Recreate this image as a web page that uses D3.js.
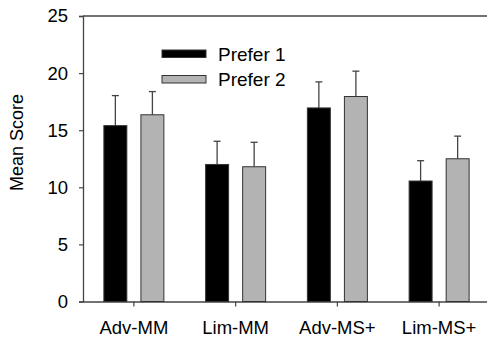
<!DOCTYPE html>
<html>
<head>
<meta charset="utf-8">
<script src="https://cdn.jsdelivr.net/npm/d3@7"></script>
<style>
  body { margin: 0; background: #fff; }
  svg { display: block; font-family: "Liberation Sans", Arial, sans-serif; }
</style>
</head>
<body>
<svg id="chart" width="487" height="342"></svg>
<script>
const categories = ["Adv-MM", "Lim-MM", "Adv-MS+", "Lim-MS+"];
const seriesNames = ["Prefer 1", "Prefer 2"];
const prefer1 = [15.4, 12.0, 16.95, 10.55];
const prefer2 = [16.35, 11.8, 17.95, 12.5];
const prefer1Err = [2.63, 2.03, 2.28, 1.78];
const prefer2Err = [2.03, 2.14, 2.22, 1.98];
const yTicks = [0, 5, 10, 15, 20, 25];

const svg = d3.select("#chart");
const plotLeft = 83, plotRight = 490, plotTop = 16, plotBottom = 301.5;
const colors = ["#000000", "#b3b3b3"];
const axisColor = "#444";

const x = d3.scaleBand()
  .domain(categories)
  .range([plotLeft, plotRight]);

const inner = d3.scaleBand()
  .domain(seriesNames)
  .range([-30, 30])
  .paddingInner(0.38)
  .paddingOuter(0);

const y = d3.scaleLinear()
  .domain([0, 25])
  .range([plotBottom, plotTop]);

const rows = categories.map((c, i) => ({
  cat: c,
  vals: [
    { s: seriesNames[0], v: prefer1[i], e: prefer1Err[i], c: colors[0] },
    { s: seriesNames[1], v: prefer2[i], e: prefer2Err[i], c: colors[1] }
  ]
}));

// frame top line
svg.append("line")
  .attr("x1", plotLeft).attr("x2", 487)
  .attr("y1", plotTop).attr("y2", plotTop)
  .attr("stroke", axisColor).attr("stroke-width", 1.3);

// y axis
const yAxis = svg.append("g")
  .attr("transform", `translate(${plotLeft},0)`)
  .call(d3.axisLeft(y).tickValues(yTicks).tickSize(4).tickPadding(11));
yAxis.select(".domain").attr("stroke", axisColor).attr("stroke-width", 1.3);
yAxis.selectAll(".tick line").attr("stroke", axisColor).attr("stroke-width", 1.2);
yAxis.selectAll(".tick text")
  .attr("fill", "#000")
  .style("font-size", "18.5px");

// x axis
const xAxis = svg.append("g")
  .attr("transform", `translate(0,${plotBottom})`)
  .call(d3.axisBottom(x).tickSize(5).tickPadding(14).tickSizeOuter(0));
xAxis.select(".domain").attr("stroke", axisColor).attr("stroke-width", 1.3);
xAxis.selectAll(".tick line").attr("stroke", axisColor).attr("stroke-width", 1.2);
xAxis.selectAll(".tick text")
  .attr("fill", "#000")
  .style("font-size", "18.5px");

// y title
svg.append("text")
  .attr("transform", "translate(23,142.5) rotate(-90)")
  .attr("text-anchor", "middle")
  .attr("fill", "#000")
  .style("font-size", "18px")
  .text("Mean Score");

const groups = svg.append("g").selectAll("g")
  .data(rows)
  .join("g")
  .attr("transform", d => `translate(${x(d.cat) + x.bandwidth() / 2},0)`);

// error bars (upper only)
groups.selectAll(".err")
  .data(d => d.vals)
  .join("g")
  .attr("class", "err")
  .each(function(d) {
    const cx = inner(d.s) + inner.bandwidth() / 2;
    const g = d3.select(this);
    g.append("line")
      .attr("x1", cx).attr("x2", cx)
      .attr("y1", y(d.v)).attr("y2", y(d.v + d.e))
      .attr("stroke", axisColor).attr("stroke-width", 1.3);
    g.append("line")
      .attr("x1", cx - 3.5).attr("x2", cx + 3.5)
      .attr("y1", y(d.v + d.e)).attr("y2", y(d.v + d.e))
      .attr("stroke", axisColor).attr("stroke-width", 1.3);
  });

groups.selectAll("rect")
  .data(d => d.vals)
  .join("rect")
  .attr("x", d => inner(d.s))
  .attr("width", inner.bandwidth())
  .attr("y", d => y(d.v))
  .attr("height", d => y(0) - y(d.v))
  .attr("fill", d => d.c)
  .attr("stroke", "#333")
  .attr("stroke-width", 1);

// legend
const legend = svg.append("g")
  .attr("transform", "translate(162,50)");

const legendItems = legend.selectAll("g")
  .data(seriesNames)
  .join("g")
  .attr("transform", (d, i) => `translate(0,${i * 25.5})`);

legendItems.append("rect")
  .attr("width", 44)
  .attr("height", 7.5)
  .attr("fill", (d, i) => colors[i])
  .attr("stroke", "#333")
  .attr("stroke-width", 1);

legendItems.append("text")
  .attr("x", 56)
  .attr("y", 10.5)
  .attr("fill", "#000")
  .style("font-size", "19px")
  .text(d => d);
</script>
</body>
</html>
